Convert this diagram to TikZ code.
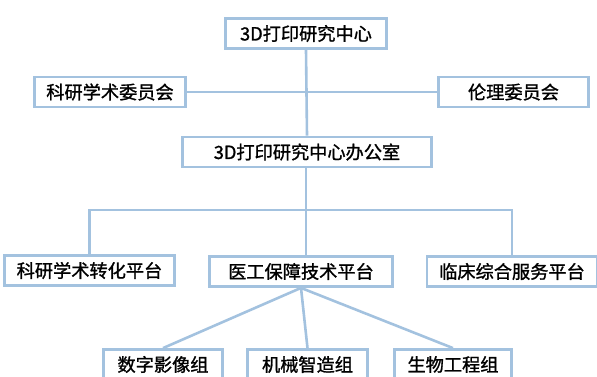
\documentclass[tikz,border=0pt]{standalone}
\usepackage{fontspec}
\setmainfont{Noto Sans CJK SC}
\newfontfamily\boxfont[FakeBold=1.2]{Noto Sans CJK SC}
\definecolor{boxblue}{HTML}{A3C2DF}
\begin{document}
\begin{tikzpicture}[x=1pt,y=-1pt,
  box/.style={draw=boxblue,line width=2.8pt,fill=white,inner sep=0pt,
    minimum height=30pt,font=\boxfont\fontsize{18.2}{20}\selectfont,text=black},
  link/.style={draw=boxblue,line width=2.6pt}]
\useasboundingbox (0,0) rectangle (597,376);
\clip (0,0) rectangle (597,376);
% nodes
\node[box,minimum width=161pt] (top) at (306,33.5) {3D打印研究中心};
\node[box,minimum width=151pt] (sci) at (110,92) {科研学术委员会};
\node[box,minimum width=150pt] (eth) at (513.5,92) {伦理委员会};
\node[box,minimum width=249pt] (off) at (307,152) {3D打印研究中心办公室};
\node[box,minimum width=170pt] (pl) at (89.5,270.5) {科研学术转化平台};
\node[box,minimum width=183pt] (pm) at (301,271.5) {医工保障技术平台};
\node[box,minimum width=170pt] (pr) at (512,271.5) {临床综合服务平台};
\node[box,minimum width=119pt] (g1) at (163,364.5) {数字影像组};
\node[box,minimum width=120pt] (g2) at (307.5,364.5) {机械智造组};
\node[box,minimum width=117pt] (g3) at (453,364.5) {生物工程组};
\coordinate (bus) at (306,210);
% connectors
\path[link] (top.south) -- (off.north);
\path[link] (sci.east) -- (eth.west);
\path[link] (off.south -| bus) -- (pm.north -| bus);
\path[link] (pl.north) |- (bus) -| (pr.north);
\path[link] (pm.south) -- (g1.north);
\path[link] (pm.south) -- (g2.north);
\path[link] (pm.south) -- (g3.north);
\end{tikzpicture}
\end{document}
